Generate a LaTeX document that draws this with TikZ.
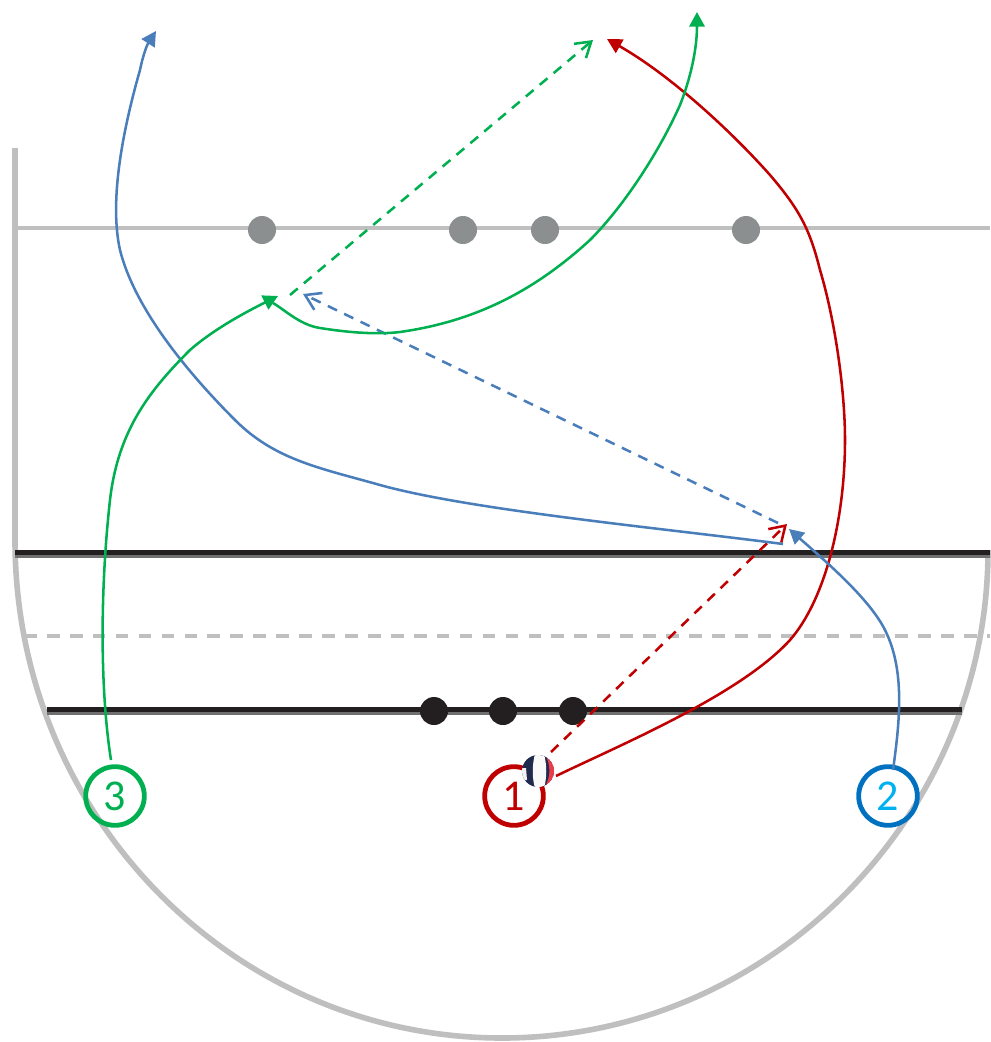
\documentclass[tikz,border=0pt]{standalone}
\usepackage{fontspec}
\setmainfont{Carlito}
\usetikzlibrary{arrows.meta}
\definecolor{cgreen}{HTML}{00B050}
\definecolor{cred}{HTML}{C00000}
\definecolor{cblue}{HTML}{4A7EBB}
\definecolor{ring}{HTML}{0070C0}
\definecolor{digit}{HTML}{00B0F0}
\definecolor{ccourt}{HTML}{BFBFBF}
\definecolor{cdark}{HTML}{231F20}
\definecolor{cshade}{HTML}{707070}
\definecolor{cnet}{HTML}{8C8F8F}
\definecolor{navy}{HTML}{1F2A4D}
\definecolor{ballred}{HTML}{EE3B4A}
\tikzset{
  courtline/.style={draw=ccourt,line width=4.2pt},
  thinline/.style={draw=ccourt,line width=2.7pt},
  thickline/.style={draw=cdark,line width=3.9pt},
  shadeline/.style={draw=cshade,line width=1.8pt},
  netdot/.style={circle,fill=cnet,minimum size=21pt,inner sep=0pt},
  blackdot/.style={circle,fill=cdark,minimum size=21pt,inner sep=0pt},
  player/.style={circle,draw,fill=none,line width=3.6pt,minimum size=44pt,inner sep=0pt,font=\fontsize{33pt}{33pt}\selectfont},
  run/.style={line width=1.9pt,-{Triangle[length=11pt,width=11.5pt]}},
  pass/.style={line width=1.9pt,dash pattern=on 7.6pt off 6pt,-{Straight Barb[length=11pt,width=14pt,line width=1.9pt]}},
}
\begin{document}
\begin{tikzpicture}[x=0.75pt,y=-0.75pt]
\useasboundingbox (0,0) rectangle (990,1042);
% court
\draw[courtline] (15,148) -- (15,540) .. controls (15,815) and (233,1038) .. (502,1038) .. controls (771,1038) and (988,815) .. (988,550);
\draw[thinline] (15,228) -- (990,228);
\draw[thinline,dash pattern=on 9.5pt off 7.7pt] (24,636) -- (990,636);
\draw[shadeline] (15,556.5) -- (990,556.5);
\draw[thickline] (15,552.5) -- (990,552.5);
\draw[shadeline] (47,713.5) -- (962,713.5);
\draw[thickline] (47,709.5) -- (962,709.5);
% dots
\node[netdot] (n1) at (262,230) {};
\node[netdot] (n2) at (463,230) {};
\node[netdot] (n3) at (545,230) {};
\node[netdot] (n4) at (746,230) {};
\node[blackdot] (b1) at (434,711) {};
\node[blackdot] (b2) at (503,711) {};
\node[blackdot] (b3) at (573,711) {};
% players
\node[player,draw=cgreen,text=cgreen] (p3) at (115,796) {3};
\node[player,draw=cred,text=cred] (p1) at (514,796) {1};
\node[player,draw=ring,text=digit] (p2) at (888,796) {2};
% ball
\coordinate (ballc) at (538,771);
\begin{scope}
\clip (ballc) circle (16);
\fill[navy] (ballc) circle (16);
\fill[white!90!gray] (521,768) -- (526,768) -- (527,780) -- (521,780) -- cycle;
\fill[ballred] (545,754) .. controls (551,765) and (551,778) .. (544,788) -- (556,788) -- (556,754) -- cycle;
\fill[white!95!gray] (535,754) .. controls (532,765) and (532,778) .. (535,788) -- (544,788) .. controls (547,778) and (547,765) .. (544,754) -- cycle;
\end{scope}
% coordinates
\coordinate (c1) at (556,776);
\coordinate (d1) at (551,752);
\coordinate (t1) at (787,524);
\coordinate (r1) at (607,39);
\coordinate (s2) at (893,770);
\coordinate (t2) at (789,529);
\coordinate (s2b) at (783,544);
\coordinate (t2b) at (156,31);
\coordinate (d2) at (778,523);
\coordinate (t2c) at (303,294);
\coordinate (s3) at (111,760);
\coordinate (t3) at (278,296);
\coordinate (s3b) at (273,303);
\coordinate (t3b) at (697,12);
\coordinate (d3) at (290,295);
\coordinate (t3c) at (593,40);
% red
\draw[run,cred] (c1) .. controls (620,745) and (740,695) .. (790,640) .. controls (825,600) and (845,520) .. (845,440) .. controls (845,390) and (835,320) .. (820,270) .. controls (810,230) and (800,210) .. (770,175) .. controls (730,130) and (670,75) .. (r1);
\draw[pass,cred] (d1) -- (t1);
% blue
\draw[run,cblue] (s2) .. controls (900,720) and (905,670) .. (885,630) .. controls (870,600) and (830,565) .. (t2);
\draw[run,cblue] (s2b) .. controls (660,528) and (470,510) .. (380,485) .. controls (320,468) and (275,460) .. (235,420) .. controls (190,375) and (135,310) .. (120,250) .. controls (110,205) and (120,140) .. (140,70) .. controls (143,55) and (147,45) .. (t2b);
\draw[pass,cblue] (d2) -- (t2c);
% green
\draw[run,cgreen] (s3) .. controls (100,690) and (100,590) .. (110,500) .. controls (118,430) and (150,390) .. (190,350) .. controls (215,328) and (250,310) .. (t3);
\draw[run,cgreen] (s3b) .. controls (285,310) and (300,325) .. (320,328) .. controls (345,332) and (375,335) .. (400,332) .. controls (470,322) and (530,295) .. (590,240) .. controls (625,205) and (660,150) .. (680,105) .. controls (690,80) and (697,50) .. (t3b);
\draw[pass,cgreen] (d3) -- (t3c);
\end{tikzpicture}
\end{document}
